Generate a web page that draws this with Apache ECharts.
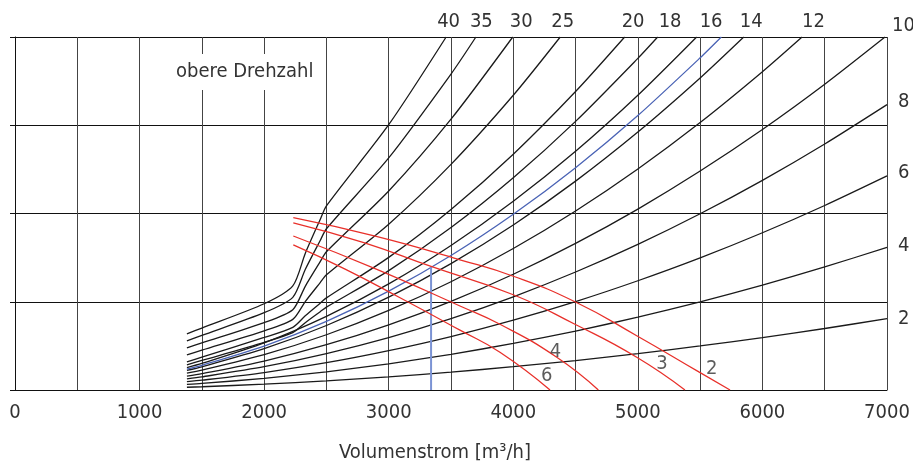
<!DOCTYPE html>
<html style="height: 100%">
<head>
	<meta charset="utf-8">
</head>
<body style="height: 100%; margin: 0; background: #fff">
<div id="container" style="width: 913px; height: 468px"></div>
<script type="text/javascript" src="https://cdn.jsdelivr.net/npm/echarts@6.0.0/dist/echarts.min.js"></script>
<script type="text/javascript">
    // Volumenstrom [m3/h] on x, pressure on y (no y labels, one grid step = 100)
    var xTicks = [0, 1000, 2000, 3000, 4000, 5000, 6000, 7000];

    // black curves, label = curve name
    var k40 = [[1380, 63.6], [1500, 70.2], [2000, 97.7], [2230, 118], [2330, 154.8], [2450, 193.3], [2500, 208.7], [3000, 300.6], [3461, 400]];
    var k35 = [[1380, 55.7], [1500, 61.9], [2000, 87.6], [2230, 105], [2330, 136.5], [2450, 169.4], [2500, 182.7], [3000, 263], [3500, 358], [3700, 400]];
    var k30 = [[1380, 47.7], [1500, 53.3], [2000, 76.4], [2230, 91], [2330, 117.5], [2450, 145.4], [2500, 156.6], [3000, 225.5], [3500, 306.9], [3996, 400]];
    var k25 = [[1380, 39.8], [1500, 45.1], [2000, 67], [2230, 80], [2330, 100.2], [2450, 121.7], [2500, 130.5], [3000, 187.9], [3500, 255.7], [4000, 334], [4377, 400]];
    var k20 = [[1380, 31.8], [1500, 37.2], [2000, 59.5], [2230, 71], [2330, 84.1], [2450, 98.4], [2500, 104.4], [3000, 150.3], [3500, 204.6], [4000, 267.2], [4500, 338.2], [4894, 400]];
    var k18 = [[1380, 28.6], [1500, 33.5], [2000, 54], [2230, 65], [2330, 76.3], [2450, 88.7], [2500, 93.9], [3000, 135.3], [3500, 184.1], [4000, 240.5], [4500, 304.4], [5000, 375.8], [5159, 400]];
    var k16 = [[1380, 25.4], [1500, 30.1], [2000, 53.4], [2500, 83.5], [3000, 120.2], [3500, 163.7], [4000, 213.8], [4500, 270.5], [5000, 334], [5472, 400]];
    var k14 = [[1380, 22.3], [1500, 26.3], [2000, 46.8], [2500, 73.1], [3000, 105.2], [3500, 143.2], [4000, 187], [4500, 236.7], [5000, 292.3], [5500, 353.6], [5850, 400]];
    var k12 = [[1380, 19.1], [1500, 22.5], [2000, 40.1], [2500, 62.6], [3000, 90.2], [3500, 122.7], [4000, 160.3], [4500, 202.9], [5000, 250.5], [5500, 303.1], [6000, 360.7], [6318, 400]];
    var k10 = [[1380, 15.6], [1500, 18.5], [2000, 32.8], [2500, 51.3], [3000, 73.8], [3500, 100.5], [4000, 131.2], [4500, 166.1], [5000, 205], [5500, 248.1], [6000, 295.2], [6500, 346.5], [6984, 400]];
    var k8 = [[1380, 12.6], [1500, 14.9], [2000, 26.4], [2500, 41.3], [3000, 59.4], [3500, 80.9], [4000, 105.6], [4500, 133.7], [5000, 165], [5500, 199.7], [6000, 237.6], [6500, 278.8], [7000, 323.4]];
    var k6 = [[1380, 9.4], [1500, 11.1], [2000, 19.8], [2500, 30.9], [3000, 44.6], [3500, 60.6], [4000, 79.2], [4500, 100.2], [5000, 123.8], [5500, 149.7], [6000, 178.2], [6500, 209.1], [7000, 242.6]];
    var k4 = [[1380, 6.3], [1500, 7.4], [2000, 13.2], [2500, 20.6], [3000, 29.7], [3500, 40.4], [4000, 52.8], [4500, 66.8], [5000, 82.5], [5500, 99.8], [6000, 118.8], [6500, 139.4], [7000, 161.7]];
    var k2 = [[1380, 3.1], [1500, 3.7], [2000, 6.6], [2500, 10.3], [3000, 14.9], [3500, 20.2], [4000, 26.4], [4500, 33.4], [5000, 41.3], [5500, 49.9], [6000, 59.4], [6500, 69.7], [7000, 80.9]];

    // blue example curve and operating point
    var blueCurve = [[1380, 23.7], [1500, 28], [2000, 49.8], [2500, 77.8], [3000, 112], [3500, 152.4], [4000, 199.1], [4500, 251.9], [5000, 311], [5500, 376.4], [5670, 400]];
    var blueDrop = [[3340, 0], [3340, 140]];

    // red curves
    var r2 = [[2234, 195.2], [2900, 174], [3572, 147.5], [4000, 128.9], [4495, 100], [4991, 61.5], [5493, 20.2], [5740, 0]];
    var r3 = [[2234, 189.5], [2800, 167], [3340, 140], [3995, 108.2], [4495, 74.5], [4991, 37.1], [5378, 0]];
    var r4 = [[2234, 174.5], [2900, 137], [3572, 95.2], [3893, 74.5], [4349, 37.1], [4683, 0]];
    var r6 = [[2234, 164.4], [2650, 137], [3091, 104.5], [3572, 67.8], [3893, 42.7], [4295, 0]];
    var redNames = ['6', '4', '3', '2'];
    var redLabelAt = [[4268, 15.7], [4338, 43.8], [5194, 29.2], [5593, 24.2]];

    var FONT = "'DejaVu Sans Condensed', 'Liberation Sans Narrow', sans-serif";
    var TXT = '#333';
    var FS = 20;

    var blackCurves = [
        ['40', k40], ['35', k35], ['30', k30], ['25', k25], ['20', k20], ['18', k18], ['16', k16],
        ['14', k14], ['12', k12], ['10', k10], ['8', k8], ['6', k6], ['4', k4], ['2', k2]
    ];
    // label nudges in px
    var labelOffset = {
        '40': [-17, -15], '35': [-14, -15], '30': [-11, -15], '25': [-17, -15], '20': [-11, -15],
        '18': [-7, -15], '16': [-5, -15], '14': [-12, -15], '12': [-8, -15], '10': [-1, -11],
        '8': [3, -3], '6': [3, -3], '4': [3, -2], '2': [3, 0]
    };

    var series = [];
    blackCurves.forEach(function (c) {
        series.push({
            name: 'k' + c[0],
            type: 'line',
            data: c[1],
            showSymbol: false,
            smooth: 0.25,
            z: 2,
            lineStyle: {color: '#1a1a1a', width: 1.3},
            endLabel: {
                show: true,
                formatter: c[0],
                offset: labelOffset[c[0]],
                color: TXT,
                fontFamily: FONT,
                fontSize: FS
            }
        });
    });

    series.push({
        type: 'line', data: blueCurve, showSymbol: false, smooth: 0.25, z: 3,
        lineStyle: {color: '#4a63b5', width: 1.3}
    });
    series.push({
        type: 'line', data: blueDrop, showSymbol: false, z: 3,
        lineStyle: {color: '#7b93d4', width: 2}
    });

    [r2, r3, r4, r6].forEach(function (r) {
        series.push({
            type: 'line', data: r, showSymbol: false, smooth: 0.5, z: 4,
            lineStyle: {color: '#e8302a', width: 1.3}
        });
    });

    series.push({
        type: 'scatter',
        symbolSize: 0,
        z: 5,
        data: redLabelAt.map(function (p, i) { return {name: redNames[i], value: p}; }),
        label: {
            show: true, position: 'inside', formatter: '{b}',
            color: TXT, fontFamily: FONT, fontSize: FS
        }
    });

    var dom = document.getElementById("container");
    var myChart = echarts.init(dom);
    var option = {
        backgroundColor: '#fff',
        animation: false,
        grid: {left: 15, right: 26, top: 37, bottom: 75},
        xAxis: {
            type: 'value',
            min: 0,
            max: 7000,
            interval: 500,
            name: 'Volumenstrom [m³/h]',
            nameLocation: 'middle',
            nameGap: 53,
            nameTextStyle: {color: TXT, fontFamily: FONT, fontSize: FS, padding: [0, 32, 0, 0]},
            axisLine: {lineStyle: {color: '#111', width: 1}},
            axisTick: {show: false},
            axisLabel: {
                margin: 13,
                color: TXT,
                fontFamily: FONT,
                fontSize: FS,
                formatter: function (v) { return xTicks.indexOf(v) >= 0 ? String(v) : ''; }
            },
            splitLine: {show: true, lineStyle: {color: '#444', width: 1}}
        },
        yAxis: {
            type: 'value',
            min: 0,
            max: 400,
            interval: 100,
            axisLine: {show: true, lineStyle: {color: '#111', width: 1}},
            axisTick: {show: true, length: 5, lineStyle: {color: '#111'}},
            axisLabel: {show: false},
            splitLine: {show: true, lineStyle: {color: '#111', width: 1}}
        },
        graphic: [{
            type: 'text',
            left: 170,
            top: 54,
            z: 10,
            style: {
                text: 'obere Drehzahl',
                fill: TXT,
                font: FS + 'px ' + FONT,
                backgroundColor: '#fff',
                padding: [8, 6]
            }
        }],
        series: series
    };
    myChart.setOption(option);
</script>
</body>
</html>
